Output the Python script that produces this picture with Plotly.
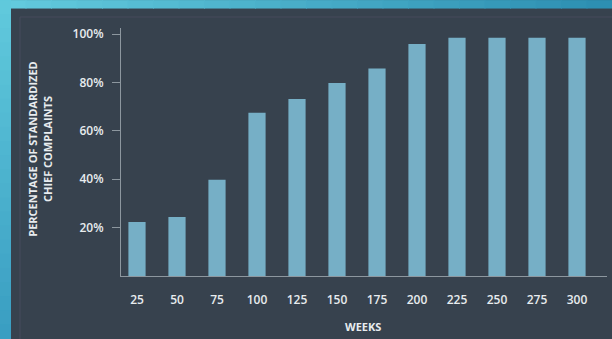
import plotly.graph_objects as go

weeks = ["25", "50", "75", "100", "125", "150", "175", "200", "225", "250", "275", "300"]
pct = [22.3, 24.4, 39.8, 67.5, 73.2, 79.8, 85.8, 95.9, 98.5, 98.5, 98.5, 98.5]
y_ticks = [20, 40, 60, 80, 100]
y_tick_labels = ["20%", "40%", "60%", "80%", "100%"]

W, H = 612, 339
L, R, T, B = 121, 5, 28, 62.5
PW, PH = W - L - R, H - T - B

def px(x):
    return (x - L) / PW

def py(y):
    return (H - B - y) / PH

PANEL = "#37424e"
BAR = "#76afc6"
TXT = "#e8ecef"
AX = "#8d979f"

fig = go.Figure(go.Bar(x=weeks, y=pct, marker=dict(color=BAR, line=dict(width=0)), width=0.43))

shapes = []
def mix(c1, c2, t):
    a = [int(c1[i:i+2], 16) for i in (1, 3, 5)]
    b = [int(c2[i:i+2], 16) for i in (1, 3, 5)]
    return "#%02x%02x%02x" % tuple(round(a[k] + (b[k] - a[k]) * t) for k in range(3))

n = 24
for i in range(n):
    x0, x1 = W * i / n, W * (i + 1) / n + 1
    shapes.append(dict(type="rect", xref="paper", yref="paper", x0=px(x0), x1=px(x1), y0=py(0), y1=py(8.5),
                       fillcolor=mix("#62cadd", "#2d8fb2", i / (n - 1)), line=dict(width=0), layer="below"))
for i in range(n):
    y0, y1 = H * i / n, H * (i + 1) / n + 1
    shapes.append(dict(type="rect", xref="paper", yref="paper", x0=px(0), x1=px(11), y0=py(y0), y1=py(y1),
                       fillcolor=mix("#60c9dc", "#3a9ec2", i / (n - 1)), line=dict(width=0), layer="below"))
shapes.append(dict(type="rect", xref="paper", yref="paper", x0=px(20), x1=px(640), y0=py(17), y1=py(400),
                   line=dict(color="#474b5c", width=1), fillcolor="rgba(0,0,0,0)", layer="below"))

tickfont = dict(size=12, color=TXT, family="Open Sans", weight=600)

fig.update_layout(
    width=W, height=H,
    margin=dict(l=L, r=R, t=T, b=B, pad=0),
    paper_bgcolor=PANEL, plot_bgcolor=PANEL,
    showlegend=False,
    bargap=0.57,
    font=dict(family="Open Sans", color=TXT),
    shapes=shapes,
    xaxis=dict(type="category", range=[-0.4, 11.75], showgrid=False, zeroline=False,
               showline=True, linecolor=AX, linewidth=1.2, ticks="",
               tickfont=tickfont, ticklabelstandoff=12),
    yaxis=dict(range=[0, 102.5], tickvals=y_ticks, ticktext=y_tick_labels, showgrid=False, zeroline=False,
               showline=True, linecolor=AX, linewidth=1.2, ticks="outside", ticklen=8, tickcolor=AX, tickwidth=1,
               tickfont=tickfont, ticklabelstandoff=6),
    annotations=[
        dict(text="<b>PERCENTAGE OF STANDARDIZED<br>CHIEF COMPLAINTS</b>", xref="paper", yref="paper",
             x=px(40), y=py(150), xanchor="center", yanchor="middle", textangle=-90, showarrow=False,
             font=dict(size=11, color=TXT), align="center"),
        dict(text="<b>WEEKS</b>", xref="paper", yref="paper", x=px(363), y=py(327),
             xanchor="center", yanchor="middle", showarrow=False, font=dict(size=11, color=TXT)),
    ],
)

fig.write_html("out.html")
